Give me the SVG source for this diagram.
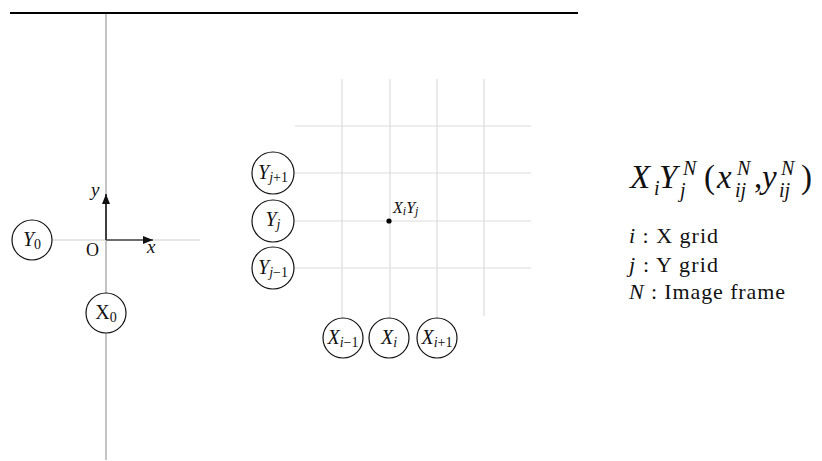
<svg xmlns="http://www.w3.org/2000/svg" width="822" height="461" viewBox="0 0 822 461">
<defs>
<style>
text{font-family:"Liberation Serif","Times New Roman",serif;fill:#111}
.it{font-style:italic}
.grid{stroke:#dcdcdc;stroke-width:1.2;fill:none}
.node{fill:#fff;stroke:#111;stroke-width:1.2}
.lbl{font-size:20px;text-anchor:middle}
.sub{font-size:14px}
.big{font-size:33px;font-style:italic}
.sm{font-size:20px;font-style:italic}
.leg{font-size:22px}
</style>
<marker id="ah" viewBox="0 0 10 8" refX="10" refY="4" markerWidth="10" markerHeight="8" markerUnits="userSpaceOnUse" orient="auto">
<path d="M0,0 L10,4 L0,8 Z" fill="#111"/>
</marker>
</defs>
<rect width="822" height="461" fill="#fff"/>
<g id="connectors">
<line x1="10" y1="13" x2="578" y2="13" stroke="#000" stroke-width="2.2"/>
<line x1="106" y1="14" x2="106" y2="460" stroke="#b0b0b0" stroke-width="1.5"/>
<line x1="52" y1="240" x2="200" y2="240" stroke="#dcdcdc" stroke-width="1.5"/>
<line x1="106" y1="240" x2="106" y2="194" stroke="#111" stroke-width="1.5" marker-end="url(#ah)"/>
<line x1="106" y1="240" x2="153" y2="240" stroke="#444" stroke-width="1.5" marker-end="url(#ah)"/>
<line class="grid" x1="342" y1="79" x2="342" y2="318"/>
<line class="grid" x1="390" y1="79" x2="390" y2="318"/>
<line class="grid" x1="437" y1="79" x2="437" y2="318"/>
<line class="grid" x1="484" y1="79" x2="484" y2="316"/>
<line class="grid" x1="295" y1="126" x2="531" y2="126"/>
<line class="grid" x1="294" y1="173" x2="531" y2="173"/>
<line class="grid" x1="294" y1="221" x2="531" y2="221"/>
<line class="grid" x1="294" y1="268" x2="531" y2="268"/>
</g>
<g id="axis-labels">
<text class="it" x="91" y="196" font-size="19">y</text>
<text class="it" x="147" y="253" font-size="19">x</text>
<text x="86" y="256" font-size="18">O</text>
</g>
<g id="Y0">
<circle class="node" cx="32" cy="240" r="20"/>
<text class="lbl" x="32" y="246"><tspan class="it">Y</tspan><tspan class="sub" dy="3">0</tspan></text>
</g>
<g id="X0">
<circle class="node" cx="106" cy="313" r="20"/>
<text class="lbl" x="106" y="319"><tspan>X</tspan><tspan class="sub" dy="3">0</tspan></text>
</g>
<g id="Yj1">
<circle class="node" cx="273" cy="173" r="21"/>
<text class="lbl" x="273" y="179"><tspan class="it">Y</tspan><tspan class="sub" dy="3"><tspan class="it">j</tspan>+1</tspan></text>
</g>
<g id="Yj">
<circle class="node" cx="273" cy="221" r="21"/>
<text class="lbl" x="273" y="226"><tspan class="it">Y</tspan><tspan class="sub it" dy="3">j</tspan></text>
</g>
<g id="Yjm1">
<circle class="node" cx="273" cy="268" r="21"/>
<text class="lbl" x="273" y="274"><tspan class="it">Y</tspan><tspan class="sub" dy="3"><tspan class="it">j</tspan>−1</tspan></text>
</g>
<g id="Xim1">
<circle class="node" cx="343" cy="338" r="20"/>
<text class="lbl" x="343" y="344"><tspan class="it">X</tspan><tspan class="sub" dy="3"><tspan class="it">i</tspan>−1</tspan></text>
</g>
<g id="Xi">
<circle class="node" cx="389" cy="338" r="20"/>
<text class="lbl" x="389" y="344"><tspan class="it">X</tspan><tspan class="sub it" dy="3">i</tspan></text>
</g>
<g id="Xip1">
<circle class="node" cx="437" cy="338" r="20"/>
<text class="lbl" x="437" y="344"><tspan class="it">X</tspan><tspan class="sub" dy="3"><tspan class="it">i</tspan>+1</tspan></text>
</g>
<g id="XiYj">
<circle cx="389" cy="221" r="2.6" fill="#000"/>
<text class="it" x="393" y="213" font-size="16">X<tspan font-size="12" dy="2">i</tspan><tspan dy="-2">Y</tspan><tspan font-size="12" dy="2">j</tspan></text>
</g>
<g id="formula">
<text class="big" x="630" y="188">X</text>
<text class="sm" x="654" y="195">i</text>
<text class="big" x="659" y="188">Y</text>
<text class="sm" x="683" y="175">N</text>
<text class="sm" x="680" y="197">j</text>
<text x="704" y="188" font-size="33">(</text>
<text class="big" x="717" y="188">x</text>
<text class="sm" x="737" y="175">N</text>
<text class="sm" x="735" y="197">ij</text>
<text x="754" y="188" font-size="33">,</text>
<text class="big" x="762" y="188">y</text>
<text class="sm" x="781" y="175">N</text>
<text class="sm" x="779" y="197">ij</text>
<text x="801" y="188" font-size="33">)</text>
</g>
<g id="legend">
<text class="leg" x="629" y="243" textLength="89" lengthAdjust="spacing"><tspan class="it">i</tspan> : X grid</text>
<text class="leg" x="629" y="272" textLength="89" lengthAdjust="spacing"><tspan class="it">j</tspan> : Y grid</text>
<text class="leg" x="629" y="299" textLength="156" lengthAdjust="spacing"><tspan class="it">N</tspan> : Image frame</text>
</g>
</svg>
